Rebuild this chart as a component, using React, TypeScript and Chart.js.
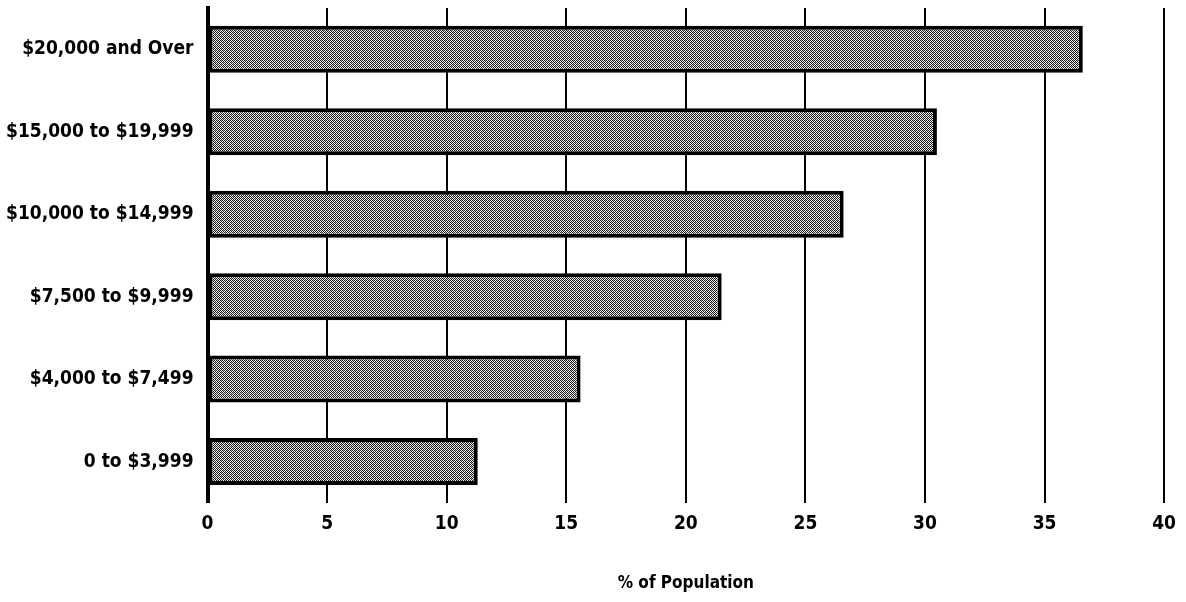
import React, { useEffect, useRef } from "react";
import { Chart, registerables } from "chart.js";

Chart.register(...registerables);

const categories = [
  "$20,000 and Over",
  "$15,000 to $19,999",
  "$10,000 to $14,999",
  "$7,500 to $9,999",
  "$4,000 to $7,499",
  "0 to $3,999",
];
const populationPct = [36.6, 30.5, 26.6, 21.5, 15.6, 11.3];
const xTicks = [0, 5, 10, 15, 20, 25, 30, 35, 40];
const axisTitle = "% of Population";

const FONT = "'Liberation Sans Narrow', 'DejaVu Sans Condensed', 'Roboto Condensed', sans-serif";

function makePattern(): CanvasPattern | string {
  const c = document.createElement("canvas");
  c.width = 4;
  c.height = 4;
  const ctx = c.getContext("2d");
  if (!ctx) return "#999";
  ctx.fillStyle = "#ffffff";
  ctx.fillRect(0, 0, 4, 4);
  ctx.fillStyle = "#1a1a1a";
  const dots = [
    [0, 0], [2, 0], [1, 1], [3, 1], [0, 2], [2, 2], [1, 3], [3, 3],
  ];
  dots.forEach(([x, y]) => ctx.fillRect(x, y, 1, 1));
  ctx.fillStyle = "#bbbbbb";
  [[1, 0], [3, 2]].forEach(([x, y]) => ctx.fillRect(x, y, 1, 1));
  const p = ctx.createPattern(c, "repeat");
  return p || "#999";
}

export default function App() {
  const ref = useRef<HTMLCanvasElement>(null);
  useEffect(() => {
    if (!ref.current) return;
    const chart = new Chart(ref.current, {
      type: "bar",
      data: {
        labels: categories,
        datasets: [
          {
            data: populationPct,
            backgroundColor: makePattern() as any,
            borderColor: "#000",
            borderWidth: 4,
            borderSkipped: false,
            categoryPercentage: 1,
            barPercentage: 0.57,
          },
        ],
      },
      options: {
        indexAxis: "y",
        animation: false,
        responsive: false,
        maintainAspectRatio: false,
        layout: { padding: { top: 8, right: 0, bottom: 8, left: 0 } },
        plugins: { legend: { display: false }, tooltip: { enabled: false } },
        scales: {
          x: {
            min: 0,
            max: 40,
            afterBuildTicks: (s: any) => {
              s.ticks = xTicks.map((v) => ({ value: v }));
            },
            border: { display: false },
            grid: { color: "#000", lineWidth: 2, drawTicks: false },
            ticks: {
              color: "#000",
              padding: 10,
              font: { family: FONT, size: 19, weight: "bold" },
            },
            title: {
              display: true,
              text: axisTitle,
              color: "#000",
              padding: { top: 28, bottom: 0 },
              font: { family: FONT, size: 17, weight: "bold" },
            },
          },
          y: {
            afterFit: (s: any) => {
              s.paddingTop = 0;
              s.paddingBottom = 0;
            },
            border: { display: true, color: "#000", width: 4 },
            grid: { display: false },
            ticks: {
              color: "#000",
              padding: 6,
              font: { family: FONT, size: 19, weight: "bold" },
            },
          },
        },
      },
    });
    return () => chart.destroy();
  }, []);
  return (
    <div style={{ position: "fixed", left: 0, top: 0, width: 1186, height: 602, background: "#fff" }}>
      <canvas ref={ref} width={1186} height={602} style={{ width: 1186, height: 602 }} />
    </div>
  );
}
